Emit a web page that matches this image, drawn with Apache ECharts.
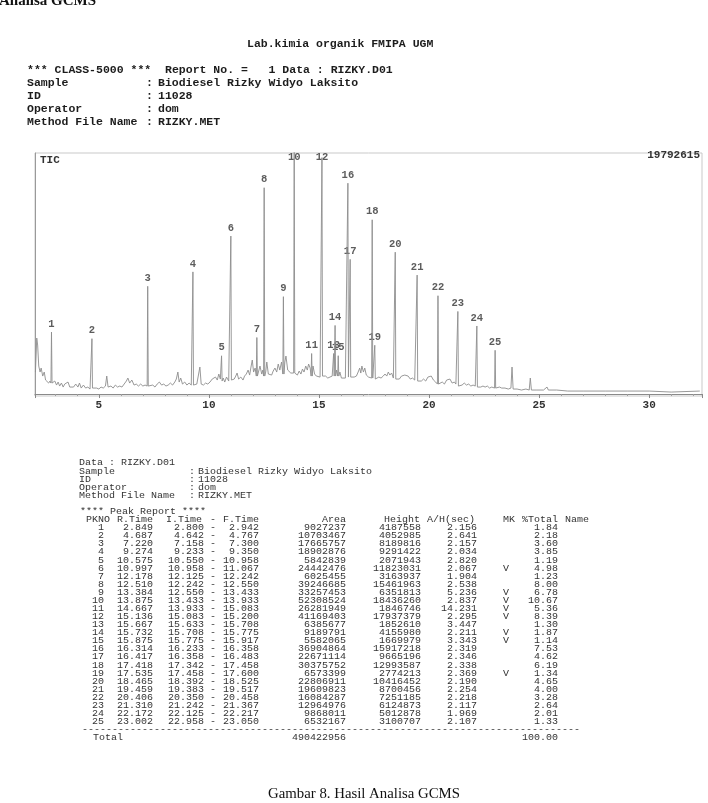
<!DOCTYPE html>
<html>
<head>
<meta charset="utf-8">
<script src="https://cdn.jsdelivr.net/npm/echarts@6/dist/echarts.min.js"></script>
<style>html,body{margin:0;padding:0;background:#fff;overflow:hidden}</style>
</head>
<body>
<div id="main" style="width:708px;height:803px"></div>
<script>
// peak report (CLASS-5000, RIZKY.D01)
var pkNo = [1, 2, 3, 4, 5, 6, 7, 8, 9, 10, 11, 12, 13, 14, 15, 16, 17, 18, 19, 20, 21, 22, 23, 24, 25];
var rTime = [2.849, 4.687, 7.220, 9.274, 10.575, 10.997, 12.178, 12.510, 13.384, 13.875, 14.667, 15.136, 15.667,
    15.732, 15.875, 16.314, 16.417, 17.418, 17.535, 18.465, 19.459, 20.406, 21.310, 22.172, 23.002];
var iTime = [2.800, 4.642, 7.158, 9.233, 10.550, 10.958, 12.125, 12.242, 12.550, 13.433, 13.933, 15.083, 15.633,
    15.708, 15.775, 16.233, 16.358, 17.342, 17.458, 18.392, 19.383, 20.350, 21.242, 22.125, 22.958];
var fTime = [2.942, 4.767, 7.300, 9.350, 10.958, 11.067, 12.242, 12.550, 13.433, 13.933, 15.083, 15.200, 15.708,
    15.775, 15.917, 16.358, 16.483, 17.458, 17.600, 18.525, 19.517, 20.458, 21.367, 22.217, 23.050];
var area = [9027237, 10703467, 17665757, 18902876, 5842839, 24442476, 6025455, 39246685, 33257453, 52308524,
    26281949, 41169403, 6385677, 9189791, 5582065, 36904864, 22671114, 30375752, 6573399, 22806911, 19609823,
    16084287, 12964976, 9868011, 6532167];
var height = [4187558, 4052985, 8189816, 9291422, 2071943, 11823031, 3163937, 15461963, 6351813, 18436260,
    1846746, 17937379, 1852610, 4155980, 1669979, 15917218, 9665196, 12993587, 2774213, 10416452, 8700456,
    7251185, 6124873, 5012878, 3100707];
var ahSec = [2.156, 2.641, 2.157, 2.034, 2.820, 2.067, 1.904, 2.538, 5.236, 2.837, 14.231, 2.295, 3.447, 2.211,
    3.343, 2.319, 2.346, 2.338, 2.369, 2.190, 2.254, 2.218, 2.117, 1.969, 2.107];
var mk = ['', '', '', '', '', 'V', '', '', 'V', 'V', 'V', 'V', '', 'V', 'V', '', '', '', 'V', '', '', '', '', '', ''];
var pctTotal = [1.84, 2.18, 3.60, 3.85, 1.19, 4.98, 1.23, 8.00, 6.78, 10.67, 5.36, 8.39, 1.30, 1.87, 1.14, 7.53,
    4.62, 6.19, 1.34, 4.65, 4.00, 3.28, 2.64, 2.01, 1.33];
var totalArea = '490422956';
var totalPct = '100.00';
var ticMax = 19792615;

// baseline under each numbered peak
var peakBase = [903000, 493000, 657000, 739000, 1068000, 1150000, 1478000, 1478000, 1643000, 1725000, 1478000,
    1478000, 1478000, 1478000, 1478000, 1396000, 1396000, 1314000, 1232000, 1232000, 1068000, 821000, 657000,
    575000, 493000];

// noisy TIC baseline (min, counts)
var baseTime = [2.12, 2.18, 2.22, 2.27, 2.33, 2.38, 2.45, 2.52, 2.58, 2.65, 2.72, 2.78, 2.93, 3.0, 3.08, 3.15,
    3.22, 3.3, 3.38, 3.45, 3.52, 3.6, 3.68, 3.75, 3.85, 3.95, 4.05, 4.12, 4.2, 4.3, 4.4, 4.5, 4.6, 4.78, 4.9, 5.0,
    5.1, 5.2, 5.3, 5.36, 5.42, 5.55, 5.65, 5.75, 5.85, 5.95, 6.05, 6.15, 6.25, 6.32, 6.4, 6.5, 6.6, 6.7, 6.8, 6.9,
    7.0, 7.1, 7.32, 7.45, 7.55, 7.65, 7.75, 7.85, 7.95, 8.05, 8.15, 8.25, 8.35, 8.45, 8.52, 8.59, 8.65, 8.72, 8.8,
    8.9, 9.0, 9.1, 9.2, 9.35, 9.45, 9.52, 9.59, 9.65, 9.75, 9.85, 9.95, 10.05, 10.15, 10.22, 10.3, 10.38, 10.45,
    10.52, 10.65, 10.72, 10.8, 10.9, 11.08, 11.15, 11.22, 11.28, 11.35, 11.45, 11.55, 11.62, 11.7, 11.78, 11.85,
    11.92, 11.97, 12.03, 12.1, 12.25, 12.32, 12.4, 12.45, 12.58, 12.63, 12.7, 12.78, 12.85, 12.92, 13.0, 13.08,
    13.15, 13.22, 13.3, 13.45, 13.5, 13.58, 13.65, 13.72, 13.8, 13.95, 14.02, 14.1, 14.18, 14.25, 14.32, 14.4,
    14.47, 14.53, 14.6, 14.73, 14.8, 14.88, 14.95, 15.05, 15.22, 15.3, 15.4, 15.5, 15.6, 15.8, 15.95, 16.02, 16.1,
    16.2, 16.52, 16.6, 16.7, 16.78, 16.85, 16.9, 16.95, 17.02, 17.08, 17.15, 17.25, 17.33, 17.62, 17.72, 17.82,
    17.92, 18.0, 18.08, 18.15, 18.22, 18.3, 18.38, 18.55, 18.65, 18.75, 18.82, 18.9, 18.98, 19.05, 19.15, 19.25,
    19.35, 19.55, 19.65, 19.75, 19.85, 19.95, 20.02, 20.1, 20.2, 20.3, 20.5, 20.6, 20.7, 20.8, 20.88, 20.95,
    21.05, 21.15, 21.22, 21.4, 21.5, 21.6, 21.7, 21.8, 21.9, 22.0, 22.1, 22.25, 22.35, 22.45, 22.55, 22.65, 22.75,
    22.85, 22.93, 23.1, 23.2, 23.3, 23.45, 23.6, 23.72, 23.77, 23.82, 24.0, 24.2, 24.4, 24.55, 24.6, 24.65, 24.9,
    25.2, 25.36, 25.42, 25.8, 26.3, 27.0, 28.0, 29.0, 30.0, 31.0, 32.3];
var baseValue = [1807000, 4599000, 4024000, 2300000, 1807000, 2135000, 1478000, 1807000, 1150000, 1314000,
    903000, 1068000, 821000, 1068000, 739000, 986000, 657000, 903000, 575000, 821000, 657000, 986000, 575000,
    739000, 575000, 821000, 575000, 903000, 493000, 739000, 493000, 575000, 411000, 411000, 493000, 411000,
    575000, 493000, 657000, 1478000, 575000, 657000, 493000, 739000, 575000, 657000, 575000, 821000, 1068000,
    1314000, 903000, 1150000, 739000, 821000, 657000, 821000, 657000, 739000, 657000, 739000, 575000, 821000,
    986000, 739000, 821000, 657000, 739000, 903000, 739000, 986000, 1232000, 1807000, 986000, 1314000, 821000,
    986000, 739000, 903000, 739000, 739000, 821000, 903000, 2217000, 821000, 739000, 903000, 821000, 986000,
    1232000, 1068000, 1396000, 1150000, 1643000, 1232000, 1314000, 986000, 1396000, 1068000, 1068000, 1232000,
    1478000, 1725000, 1232000, 1396000, 1150000, 1478000, 1643000, 1971000, 1560000, 2300000, 2792000, 1807000,
    2135000, 1807000, 2300000, 1643000, 1971000, 1807000, 2628000, 1643000, 1807000, 1560000, 1889000, 2135000,
    1807000, 2464000, 1971000, 2628000, 2628000, 3121000, 1971000, 2135000, 1725000, 1889000, 1807000, 1560000,
    1889000, 1643000, 2053000, 1807000, 2300000, 1971000, 2464000, 2135000, 2300000, 1643000, 1478000, 1560000,
    1396000, 1396000, 1478000, 1314000, 1396000, 1478000, 1971000, 1807000, 1314000, 1478000, 1314000, 1314000,
    1396000, 1478000, 1807000, 2135000, 1725000, 2300000, 1807000, 2135000, 1560000, 1396000, 1478000, 1314000,
    1396000, 1314000, 1478000, 1643000, 1478000, 1807000, 1560000, 1725000, 1314000, 1314000, 1232000, 1478000,
    1314000, 1560000, 1396000, 1478000, 1232000, 1314000, 1150000, 1150000, 1068000, 1232000, 1068000, 1396000,
    1232000, 1478000, 1150000, 986000, 903000, 986000, 821000, 1150000, 986000, 1232000, 903000, 986000, 821000,
    821000, 739000, 903000, 739000, 821000, 657000, 739000, 657000, 657000, 575000, 657000, 575000, 657000,
    493000, 575000, 493000, 493000, 575000, 493000, 493000, 411000, 493000, 2217000, 411000, 411000, 329000,
    411000, 329000, 1314000, 329000, 329000, 329000, 575000, 329000, 329000, 246000, 246000, 246000, 246000,
    246000, 164000, 246000];

// build trace: baseline + a narrow spike for every peak
var trace = [];
for (var i = 0; i < baseTime.length; i++) trace.push([baseTime[i], baseValue[i]]);
for (var j = 0; j < rTime.length; j++) {
    trace.push([rTime[j] - 0.025, peakBase[j]]);
    trace.push([rTime[j], peakBase[j] + height[j]]);
    trace.push([rTime[j] + 0.025, peakBase[j]]);
}
trace.sort(function (a, b) { return a[0] - b[0]; });

var labelCap = 18800000;  // clipped peaks get their number just under the frame
var peakLabels = rTime.map(function (t, k) {
    return {name: String(pkNo[k]), value: [t, Math.min(peakBase[k] + height[k], labelCap)]};
});

// ---- text blocks ----
var monoB = 'bold 11.5px "Liberation Mono", monospace';
var mono = '10px "Liberation Mono", monospace';
var ink = '#1c1c1c', ink2 = '#333';

function txt(x, y, s, font, fill, align) {
    return {type: 'text', x: x, y: y, silent: true,
        style: {text: s, font: font, fill: fill, textAlign: align || 'left', textVerticalAlign: 'middle'}};
}
function small(x, y, s, align) {
    var t = txt(x, y, s, mono, ink2, align);
    t.scaleY = 0.82;
    return t;
}
function column(x, lines, align) {
    return {type: 'text', x: x, y: 524, scaleY: 0.82, silent: true,
        style: {text: lines.join('\n'), font: mono, fill: ink2, textAlign: align || 'right',
            textVerticalAlign: 'top', lineHeight: 9.85}};
}

var g = [
    txt(-1, 1, 'Analisa GCMS', 'bold 15px "Liberation Serif", serif', '#111'),
    txt(247, 44, 'Lab.kimia organik FMIPA UGM', monoB, ink),
    txt(27, 70, '*** CLASS-5000 ***  Report No. =   1 Data : RIZKY.D01', monoB, ink),
    txt(27, 83, 'Sample', monoB, ink), txt(146, 83, ':', monoB, ink),
    txt(158, 83, 'Biodiesel Rizky Widyo Laksito', monoB, ink),
    txt(27, 96, 'ID', monoB, ink), txt(146, 96, ':', monoB, ink), txt(158, 96, '11028', monoB, ink),
    txt(27, 109, 'Operator', monoB, ink), txt(146, 109, ':', monoB, ink), txt(158, 109, 'dom', monoB, ink),
    txt(27, 122, 'Method File Name', monoB, ink), txt(146, 122, ':', monoB, ink),
    txt(158, 122, 'RIZKY.MET', monoB, ink),
    txt(40, 160, 'TIC', 'bold 11px "Liberation Mono", monospace', '#333'),
    txt(700, 155, String(ticMax), 'bold 11px "Liberation Mono", monospace', '#333', 'right'),

    small(79, 463, 'Data : RIZKY.D01'),
    small(79, 472, 'Sample'), small(189, 472, ':'), small(198, 472, 'Biodiesel Rizky Widyo Laksito'),
    small(79, 480, 'ID'), small(189, 480, ':'), small(198, 480, '11028'),
    small(79, 488, 'Operator'), small(189, 488, ':'), small(198, 488, 'dom'),
    small(79, 496, 'Method File Name'), small(189, 496, ':'), small(198, 496, 'RIZKY.MET'),
    small(80, 512, '**** Peak Report ****'),
    small(110, 520, 'PKNO', 'right'), small(153, 520, 'R.Time', 'right'), small(202, 520, 'I.Time', 'right'),
    small(213, 520, '-', 'center'), small(259, 520, 'F.Time', 'right'), small(346, 520, 'Area', 'right'),
    small(420, 520, 'Height', 'right'), small(475, 520, 'A/H(sec)', 'right'), small(503, 520, 'MK'),
    small(558, 520, '%Total', 'right'), small(565, 520, 'Name'),

    column(104, pkNo.map(String)),
    column(153, rTime.map(function (v) { return v.toFixed(3); })),
    column(204, iTime.map(function (v) { return v.toFixed(3); })),
    column(213, pkNo.map(function () { return '-'; }), 'center'),
    column(259, fTime.map(function (v) { return v.toFixed(3); })),
    column(346, area.map(String)),
    column(421, height.map(String)),
    column(477, ahSec.map(function (v) { return v.toFixed(3); })),
    column(503, mk, 'left'),
    column(558, pctTotal.map(function (v) { return v.toFixed(2); })),

    small(82, 730, new Array(84).join('-')),
    small(93, 738, 'Total'), small(346, 738, totalArea, 'right'), small(558, 738, totalPct, 'right'),
    txt(364, 794, 'Gambar 8. Hasil Analisa GCMS', '14.8px "Liberation Serif", serif', '#111', 'center')
];

var chart = echarts.init(document.getElementById('main'));
chart.setOption({
    animation: false,
    backgroundColor: '#fff',
    graphic: g,
    grid: {left: 35, right: 6, top: 153, bottom: 407, show: true, borderColor: '#c9c9c9', borderWidth: 1},
    xAxis: {
        type: 'value', min: 2.1, max: 32.4, splitNumber: 6,
        axisLine: {lineStyle: {color: '#8a8a8a', width: 1}},
        axisTick: {show: true, length: 4, lineStyle: {color: '#8a8a8a'}},
        minorTick: {show: true, splitNumber: 5, length: 2, lineStyle: {color: '#a0a0a0'}},
        axisLabel: {
            margin: 4, color: '#333', fontFamily: 'Liberation Mono', fontWeight: 'bold', fontSize: 11,
            showMinLabel: false, showMaxLabel: false,
            formatter: function (v) { return v % 5 === 0 ? String(v) : ''; }
        },
        splitLine: {show: false}
    },
    yAxis: {
        type: 'value', min: -160000, max: ticMax,
        axisLine: {show: true, lineStyle: {color: '#9a9a9a'}},
        axisTick: {show: false}, axisLabel: {show: false}, splitLine: {show: false}
    },
    series: [
        {
            type: 'line', data: trace, symbol: 'none', clip: true,
            lineStyle: {color: '#8d8d8d', width: 0.9}
        },
        {
            type: 'scatter', data: peakLabels, symbolSize: 1, itemStyle: {color: 'rgba(0,0,0,0)'},
            label: {
                show: true, position: 'top', distance: 2, formatter: '{b}',
                fontFamily: 'Liberation Mono', fontWeight: 'bold', fontSize: 10.5, color: '#333'
            }
        }
    ]
});
</script>
</body>
</html>
